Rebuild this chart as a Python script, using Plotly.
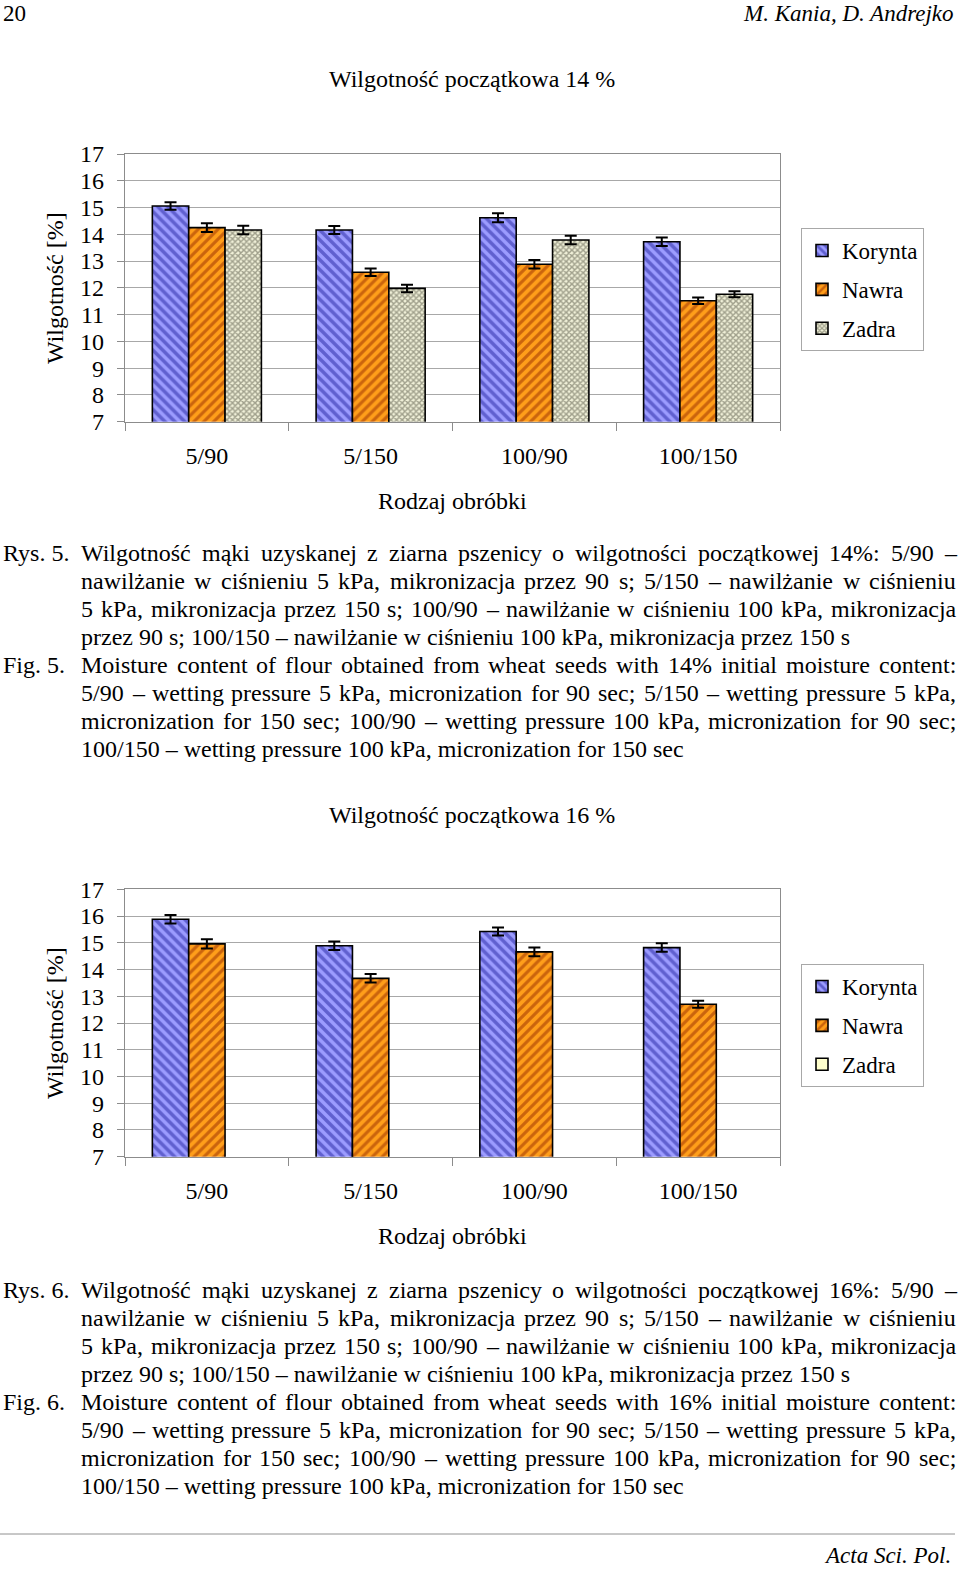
import plotly.graph_objects as go

# ---------------- data ----------------
categories = ["5/90", "5/150", "100/90", "100/150"]
series_names = ["Korynta", "Nawra", "Zadra"]

korynta_14 = [15.06, 14.16, 14.62, 13.72]
korynta_14_err = [0.14, 0.15, 0.17, 0.16]
nawra_14 = [14.25, 12.58, 12.88, 11.52]
nawra_14_err = [0.16, 0.14, 0.16, 0.12]
zadra_14 = [14.16, 11.98, 13.79, 11.76]
zadra_14_err = [0.16, 0.14, 0.16, 0.11]

korynta_16 = [15.88, 14.89, 15.42, 14.82]
korynta_16_err = [0.16, 0.16, 0.15, 0.16]
nawra_16 = [14.96, 13.67, 14.66, 12.70]
nawra_16_err = [0.17, 0.16, 0.16, 0.13]
zadra_16 = [None, None, None, None]

y_ticks = [7, 8, 9, 10, 11, 12, 13, 14, 15, 16, 17]

title_14 = "Wilgotność początkowa 14 %"
title_16 = "Wilgotność początkowa 16 %"
y_title = "Wilgotność [%]"
x_title = "Rodzaj obróbki"

caption_5 = [
    ("Rys. 5.", "Wilgotność mąki uzyskanej z ziarna pszenicy o wilgotności początkowej 14%: 5/90 –", True),
    ("", "nawilżanie w ciśnieniu 5 kPa, mikronizacja przez 90 s; 5/150 – nawilżanie w ciśnieniu", True),
    ("", "5 kPa, mikronizacja przez 150 s; 100/90 – nawilżanie w ciśnieniu 100 kPa, mikronizacja", True),
    ("", "przez 90 s; 100/150 – nawilżanie w ciśnieniu 100 kPa, mikronizacja przez 150 s", False),
    ("Fig. 5.", "Moisture content of flour obtained from wheat seeds with 14% initial moisture content:", True),
    ("", "5/90 – wetting pressure 5 kPa, micronization for 90 sec; 5/150 – wetting pressure 5 kPa,", True),
    ("", "micronization for 150 sec; 100/90 – wetting pressure 100 kPa, micronization for 90 sec;", True),
    ("", "100/150 – wetting pressure 100 kPa, micronization for 150 sec", False),
]
caption_6 = [
    ("Rys. 6.", "Wilgotność mąki uzyskanej z ziarna pszenicy o wilgotności początkowej 16%: 5/90 –", True),
    ("", "nawilżanie w ciśnieniu 5 kPa, mikronizacja przez 90 s; 5/150 – nawilżanie w ciśnieniu", True),
    ("", "5 kPa, mikronizacja przez 150 s; 100/90 – nawilżanie w ciśnieniu 100 kPa, mikronizacja", True),
    ("", "przez 90 s; 100/150 – nawilżanie w ciśnieniu 100 kPa, mikronizacja przez 150 s", False),
    ("Fig. 6.", "Moisture content of flour obtained from wheat seeds with 16% initial moisture content:", True),
    ("", "5/90 – wetting pressure 5 kPa, micronization for 90 sec; 5/150 – wetting pressure 5 kPa,", True),
    ("", "micronization for 150 sec; 100/90 – wetting pressure 100 kPa, micronization for 90 sec;", True),
    ("", "100/150 – wetting pressure 100 kPa, micronization for 150 sec", False),
]

# ---------------- style ----------------
W, H = 960, 1569
FONT = "Liberation Serif"
FS = 24
GRID = "#A8A8A8"
AXC = "#8C8C8C"

pat_k = dict(shape="\\", fgcolor="#2424A0", bgcolor="#9C9CFF", size=7, solidity=0.5)
pat_n = dict(shape="/", fgcolor="#962A00", bgcolor="#FF9E1A", size=7, solidity=0.45)
pat_z = dict(shape="x", fgcolor="#505040", bgcolor="#F0F0D8", size=4, solidity=0.6)

def px_x(x):
    return x / W

def px_y(y):
    return 1 - y / H

fig = go.Figure()

def err(arr):
    return dict(type="data", array=arr, visible=True, color="black", thickness=2, width=6)

def add_bar(name, y, e, pat, xa, ya, legend, color):
    marker = dict(color=color, line=dict(color="black", width=1.6))
    if pat:
        marker["pattern"] = pat
    fig.add_trace(go.Bar(
        x=categories, y=y, name=name, marker=marker,
        error_y=err(e) if e else None,
        xaxis=xa, yaxis=ya, legend=legend, legendgroup=legend + name,
        hoverinfo="skip",
    ))

add_bar("Korynta", korynta_14, korynta_14_err, pat_k, "x", "y", "legend", "#9C9CFF")
add_bar("Nawra", nawra_14, nawra_14_err, pat_n, "x", "y", "legend", "#FF9E1A")
add_bar("Zadra", zadra_14, zadra_14_err, pat_z, "x", "y", "legend", "#F0F0D8")
add_bar("Korynta", korynta_16, korynta_16_err, pat_k, "x2", "y2", "legend2", "#9C9CFF")
add_bar("Nawra", nawra_16, nawra_16_err, pat_n, "x2", "y2", "legend2", "#FF9E1A")
add_bar("Zadra", zadra_16, None, None, "x2", "y2", "legend2", "#FFFFCC")

xdom = [px_x(125), px_x(780)]
ydom1 = [px_y(421.7), px_y(154)]
ydom2 = [px_y(1156.7), px_y(889.3)]

xaxis_style = dict(
    domain=xdom, showline=True, linecolor=AXC, linewidth=1.2, mirror=True,
    ticks="outside", tickson="boundaries", ticklen=8, tickcolor=AXC,
    tickfont=dict(family=FONT, size=FS, color="black"), ticklabelstandoff=12,
    showgrid=False, fixedrange=True, automargin=False,
)
yaxis_style = dict(
    range=[7, 17], tickvals=y_ticks, showline=True, linecolor=AXC, linewidth=1.2, mirror=True,
    ticks="outside", ticklen=7, tickcolor=AXC,
    tickfont=dict(family=FONT, size=FS, color="black"), ticklabelstandoff=8,
    showgrid=True, gridcolor=GRID, gridwidth=1, zeroline=False, fixedrange=True, automargin=False,
)

legend_style = dict(
    font=dict(family=FONT, size=23, color="black"), bgcolor="white",
    bordercolor="#A8A8A8", borderwidth=1, xanchor="left", yanchor="top",
    tracegroupgap=6, traceorder="grouped", itemclick=False, itemdoubleclick=False,
)

fig.update_layout(
    width=W, height=H, margin=dict(l=0, r=0, t=0, b=0, pad=0, autoexpand=False), autosize=False,
    paper_bgcolor="white", plot_bgcolor="white",
    barmode="group", bargap=0.334, bargroupgap=0,
    xaxis=dict(xaxis_style, anchor="y"),
    yaxis=dict(yaxis_style, domain=ydom1, anchor="x"),
    xaxis2=dict(xaxis_style, anchor="y2"),
    yaxis2=dict(yaxis_style, domain=ydom2, anchor="x2"),
    legend=dict(legend_style, x=px_x(801), y=px_y(228)),
    legend2=dict(legend_style, x=px_x(801), y=px_y(964)),
    font=dict(family=FONT, color="black"),
)

# ---------------- text helpers ----------------
CW = {
    'a': 444, 'b': 500, 'c': 444, 'd': 500, 'e': 444, 'f': 333, 'g': 500, 'h': 500, 'i': 278,
    'j': 278, 'k': 500, 'l': 278, 'm': 778, 'n': 500, 'o': 500, 'p': 500, 'q': 500, 'r': 333,
    's': 389, 't': 278, 'u': 500, 'v': 500, 'w': 722, 'x': 500, 'y': 500, 'z': 444,
    'A': 722, 'B': 667, 'C': 667, 'D': 722, 'E': 611, 'F': 556, 'G': 722, 'H': 722, 'I': 333,
    'J': 389, 'K': 722, 'L': 611, 'M': 889, 'N': 722, 'O': 722, 'P': 556, 'Q': 722, 'R': 667,
    'S': 556, 'T': 611, 'U': 722, 'V': 722, 'W': 944, 'X': 722, 'Y': 722, 'Z': 611,
    '0': 500, '1': 500, '2': 500, '3': 500, '4': 500, '5': 500, '6': 500, '7': 500, '8': 500,
    '9': 500, ' ': 250, '.': 250, ',': 250, ';': 278, ':': 278, '/': 278, '–': 500, '%': 833,
    'ł': 278, 'ś': 389, 'ć': 444, 'ą': 444, 'ż': 444, 'ę': 444, 'ó': 500, 'ń': 500, 'ź': 444,
}

def tw(s, fs):
    return sum(CW.get(c, 500) for c in s) / 1000.0 * fs

annotations = []

def ann(text, x, y, xanchor="left", size=FS, angle=0, yanchor="middle"):
    annotations.append(dict(
        text=text, x=px_x(x), y=px_y(y), xref="paper", yref="paper",
        xanchor=xanchor, yanchor=yanchor, showarrow=False, textangle=angle,
        font=dict(family=FONT, size=size, color="black"), borderpad=0,
    ))

def add_line(text, y, x0, x1, justify, fs=FS):
    words = text.split(" ")
    if not justify or len(words) < 2:
        ann(text, x0, y, size=fs)
        return
    total = sum(tw(w, fs) for w in words)
    gap = (x1 - x0 - total) / (len(words) - 1)
    x = x0
    for w in words:
        ann(w, x, y, size=fs)
        x += tw(w, fs) + gap

def add_caption(lines, y0):
    for i, (label, text, just) in enumerate(lines):
        y = y0 + 28 * i
        if label:
            ann(label, 2, y)
        add_line(text, y, 80, 955, just)

# header / footer
ann("20", 2, 0, size=23, yanchor="top")
ann("<i>M. Kania, D. Andrejko</i>", 955, 0, xanchor="right", size=23, yanchor="top")
ann("<i>Acta Sci. Pol.</i>", 952, 1569, xanchor="right", size=23, yanchor="bottom")

# chart titles & axis titles
ann(title_14, 472, 79, xanchor="center")
ann(title_16, 472, 815, xanchor="center")
ann(y_title, 55, 288, xanchor="center", angle=-90)
ann(y_title, 55, 1023, xanchor="center", angle=-90)
ann(x_title, 452, 501, xanchor="center")
ann(x_title, 452, 1236, xanchor="center")

add_caption(caption_5, 553)
add_caption(caption_6, 1290)

fig.update_layout(annotations=annotations)
fig.add_shape(type="line", xref="paper", yref="paper", x0=0, x1=px_x(955),
              y0=px_y(1534), y1=px_y(1534), line=dict(color="#909090", width=1))

fig.write_html("out.html", config={"displayModeBar": False},
               post_script="document.body.style.margin='0';document.body.style.overflow='hidden';")
